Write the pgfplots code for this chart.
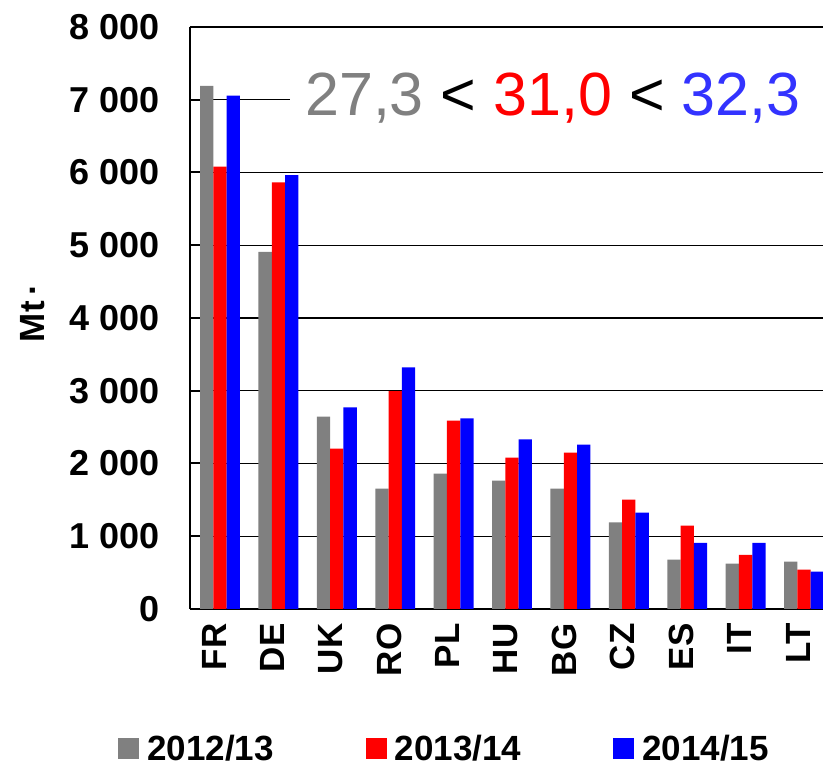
\documentclass[border=0pt]{standalone}
\usepackage{pgfplots}
\pgfplotsset{compat=1.18}
\usepackage{fontspec}
\setmainfont{Liberation Sans}
\definecolor{cgray}{RGB}{128,128,128}
\definecolor{cred}{RGB}{255,0,0}
\definecolor{cblue}{RGB}{0,0,255}
\definecolor{ablue}{RGB}{51,51,255}
\newcommand{\bigb}{\fontsize{35}{40}\selectfont\bfseries}
\newcommand{\tickb}{\fontsize{36}{40}\selectfont\bfseries}
\begin{document}
\begin{tikzpicture}[x=1pt,y=1pt]
\useasboundingbox (-190,-159) rectangle (633,609);
\begin{axis}[
  at={(0,0)}, anchor=south west, name=ax,
  scale only axis, width=633pt, height=582pt,
  ymin=0, ymax=8000, xmin=-0.514, xmax=10.325,
  ybar=0pt, bar width=13.3pt,
  axis x line*=bottom, axis y line*=left,
  axis line style={line width=1.5pt, black},
  ymajorgrids, grid style={line width=1.4pt, black},
  ytick={0,1000,...,8000},
  yticklabels={0,{1 000},{2 000},{3 000},{4 000},{5 000},{6 000},{7 000},{8 000}},
  tick align=inside, major tick length=12pt,
  ytick style={line width=2pt, black},
  xtick={0,...,10},
  xticklabels={FR,DE,UK,RO,PL,HU,BG,CZ,ES,IT,LT},
  xtick style={draw=none},
  yticklabel style={font=\tickb, xshift=-27pt},
  xticklabel style={font=\bigb, xshift=-6pt, yshift=-11pt, rotate=90, anchor=east},
  legend style={at={(-0.1137,-0.2395)}, anchor=west, draw=none, fill=none,
    inner sep=0pt, font=\bigb, nodes={inner sep=0pt},
    /tikz/every odd column/.append style={column sep=8pt},
    /tikz/every even column/.append style={column sep=92pt}},
  legend columns=3,
  legend image code/.code={\fill[#1] (0pt,-10.5pt) rectangle (21pt,10.5pt);},
]
\addplot[fill=cgray, draw=none] coordinates {
 (0,7190) (1,4910) (2,2645) (3,1655) (4,1860) (5,1765) (6,1655) (7,1190) (8,680) (9,625) (10,650)};
\addplot[fill=cred, draw=none] coordinates {
 (0,6080) (1,5865) (2,2205) (3,2995) (4,2590) (5,2080) (6,2150) (7,1505) (8,1145) (9,745) (10,540)};
\addplot[fill=cblue, draw=none] coordinates {
 (0,7055) (1,5965) (2,2770) (3,3320) (4,2620) (5,2330) (6,2260) (7,1325) (8,910) (9,910) (10,515)};
\addlegendentry{2012/13}
\addlegendentry{2013/14}
\addlegendentry{2014/15}
\end{axis}
\fill[white] (100,478) rectangle (640,545);
\node[anchor=west, inner xsep=15pt, inner ysep=0pt,
  font=\fontsize{61}{70}\selectfont] at (100,511)
  {\textcolor{cgray}{27,3} < \textcolor{cred}{31,0} < \textcolor{ablue}{32,3}};
\node[rotate=90, font=\bigb] at (-157,296) {Mt\,·};
\end{tikzpicture}
\end{document}
